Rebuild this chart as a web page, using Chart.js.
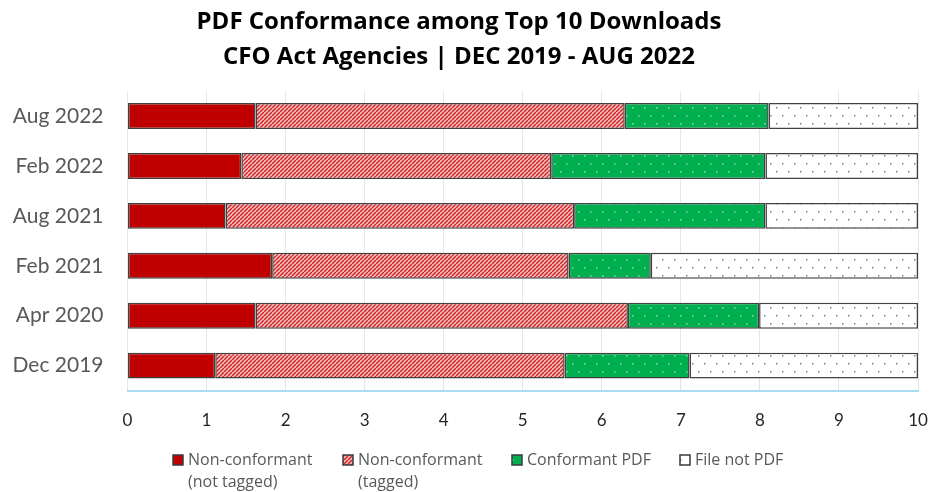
<!DOCTYPE html>
<html>
<head>
<meta charset="utf-8">
<script src="https://cdn.jsdelivr.net/npm/chart.js@4.4.0/dist/chart.umd.min.js"></script>
<style>
  html, body { margin: 0; padding: 0; background: #fff; }
  canvas { display: block; }
</style>
</head>
<body>
<canvas id="chart" width="930" height="492"></canvas>
<script>
// data (each row sums to 10)
const categories = ['Aug 2022', 'Feb 2022', 'Aug 2021', 'Feb 2021', 'Apr 2020', 'Dec 2019'];
const notTagged = [1.62, 1.44, 1.24, 1.83, 1.62, 1.11];
const tagged = [4.67, 3.92, 4.41, 3.75, 4.71, 4.42];
const conformant = [1.82, 2.71, 2.42, 1.04, 1.66, 1.58];
const notPdf = [1.89, 1.93, 1.93, 3.38, 2.01, 2.89];
const seriesNames = [['Non-conformant', '(not tagged)'], ['Non-conformant', '(tagged)'], ['Conformant PDF'], ['File not PDF']];
const xMin = 0, xMax = 10, xStep = 1;

const LATO = 'Lato, "Open Sans", sans-serif';
const OPEN = '"Open Sans", Lato, sans-serif';

function hatch() {
  const c = document.createElement('canvas');
  c.width = 4; c.height = 4;
  const g = c.getContext('2d');
  g.fillStyle = '#f2c2c2';
  g.fillRect(0, 0, 4, 4);
  g.strokeStyle = '#d42626';
  g.lineWidth = 1.5;
  for (let i = -4; i <= 8; i += 4) {
    g.beginPath();
    g.moveTo(i, 4);
    g.lineTo(i + 4, 0);
    g.stroke();
  }
  return g.createPattern(c, 'repeat');
}

function dots(bg, dot) {
  const c = document.createElement('canvas');
  c.width = 12; c.height = 16;
  const g = c.getContext('2d');
  g.fillStyle = bg;
  g.fillRect(0, 0, 12, 16);
  g.fillStyle = dot;
  g.fillRect(2, 3, 1.5, 1.5);
  g.fillRect(8, 11, 1.5, 1.5);
  return g.createPattern(c, 'repeat');
}

const fills = [
  '#c00000',
  hatch(),
  dots('#00b050', '#8fdcae'),
  dots('#ffffff', '#808080')
];

// legend with two-line labels, drawn under the axis
const legendX = [173, 343, 512, 680];
const legendPlugin = {
  id: 'twoLineLegend',
  afterDraw(chart) {
    const ctx = chart.ctx;
    ctx.save();
    ctx.font = '16px ' + OPEN;
    ctx.textBaseline = 'middle';
    const y = 460;
    seriesNames.forEach((lines, i) => {
      const x = legendX[i];
      ctx.fillStyle = fills[i];
      ctx.fillRect(x, y - 5, 10, 10);
      ctx.strokeStyle = '#3a3a3a';
      ctx.lineWidth = 1.5;
      ctx.strokeRect(x, y - 5, 10, 10);
      ctx.fillStyle = '#595959';
      lines.forEach((t, j) => ctx.fillText(t, x + 15, y + j * 22));
    });
    ctx.restore();
  }
};

const mk = (label, data, i) => ({
  label, data,
  backgroundColor: fills[i],
  borderColor: '#404040',
  borderWidth: 1.5,
  borderSkipped: false,
  barPercentage: 0.52,
  categoryPercentage: 1
});

new Chart(document.getElementById('chart'), {
  type: 'bar',
  data: {
    labels: categories,
    datasets: [
      mk('Non-conformant (not tagged)', notTagged, 0),
      mk('Non-conformant (tagged)', tagged, 1),
      mk('Conformant PDF', conformant, 2),
      mk('File not PDF', notPdf, 3)
    ]
  },
  options: {
    indexAxis: 'y',
    responsive: false,
    animation: false,
    layout: { padding: { left: 0, right: 12, top: 0, bottom: 41 } },
    plugins: {
      legend: { display: false },
      tooltip: { enabled: false },
      title: {
        display: true,
        text: ['PDF Conformance among Top 10 Downloads', 'CFO Act Agencies | DEC 2019 - AUG 2022'],
        color: '#000',
        font: { family: OPEN, size: 24, weight: 'bold', lineHeight: 1.46 },
        padding: { top: 5, bottom: 16 }
      }
    },
    scales: {
      x: {
        stacked: true,
        min: xMin, max: xMax,
        ticks: { stepSize: xStep, color: '#262626', padding: 20, font: { family: LATO, size: 17 } },
        grid: { color: '#e6e6e6', drawTicks: false },
        border: { color: '#a8dcf2', width: 2 },
        afterFit(scale) { scale.paddingLeft = 0; scale.paddingRight = 0; }
      },
      y: {
        stacked: true,
        ticks: { color: '#595959', padding: 16, font: { family: LATO, size: 21 } },
        grid: { display: false },
        border: { display: false },
        afterFit(scale) { scale.width = 127.5; }
      }
    }
  },
  plugins: [legendPlugin]
});
</script>
</body>
</html>
